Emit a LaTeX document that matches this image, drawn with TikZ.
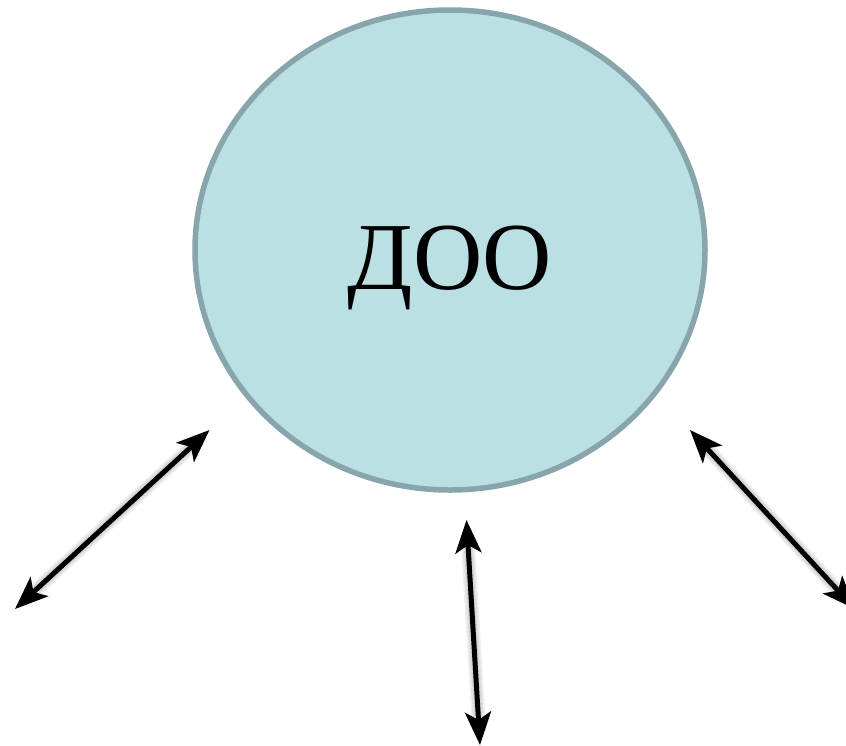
\documentclass[tikz,border=0pt]{standalone}
\usepackage{fontspec}
\setmainfont{Liberation Serif}
\usetikzlibrary{arrows.meta,shapes.geometric}
\definecolor{discfill}{HTML}{BAE0E4}
\definecolor{discline}{HTML}{88A5AB}
\tikzset{
  disc/.style={ellipse,draw=discline,fill=discfill,line width=5.5pt,minimum width=510pt,minimum height=480pt,inner sep=0pt,outer sep=0pt,text height=78pt,text depth=0pt,font=\fontsize{96}{96}\selectfont},
  twoway/.style={line width=5pt,draw=black,{Stealth[length=33pt,width=26pt,inset=8pt]}-{Stealth[length=33pt,width=26pt,inset=8pt]}},
  halo/.style={line width=#1,draw=black,opacity=.06,shorten >=14pt,shorten <=14pt,shift={(-4.5pt,4.5pt)}},
  halotip/.style={draw=none,fill=black,opacity=.12,shift={(-3.5pt,3.5pt)},{Stealth[length=33pt,width=26pt,inset=8pt]}-{Stealth[length=33pt,width=26pt,inset=8pt]}}
}
\begin{document}
\begin{tikzpicture}[x=1pt,y=-1pt]
\useasboundingbox (0,0) rectangle (846,745);
\clip (0,0) rectangle (846,745);
\node[disc] (doo) at (450,250) {ДОО};
\coordinate (la) at (209.5,430);
\coordinate (lb) at (15,609);
\coordinate (ca) at (466.5,520);
\coordinate (cb) at (480,745);
\coordinate (ra) at (690,430);
\coordinate (rb) at (855,609);
\foreach \p/\q in {la/lb,ca/cb,ra/rb}{
  \draw[halo=14pt] (\p) -- (\q);
  \draw[halo=11pt] (\p) -- (\q);
  \draw[halo=8pt] (\p) -- (\q);
  \draw[halo=5pt] (\p) -- (\q);
  \draw[halotip,line width=1pt,draw=black,draw opacity=.04] (\p) -- (\q);
  \draw[twoway] (\p) -- (\q);
}
\end{tikzpicture}
\end{document}
